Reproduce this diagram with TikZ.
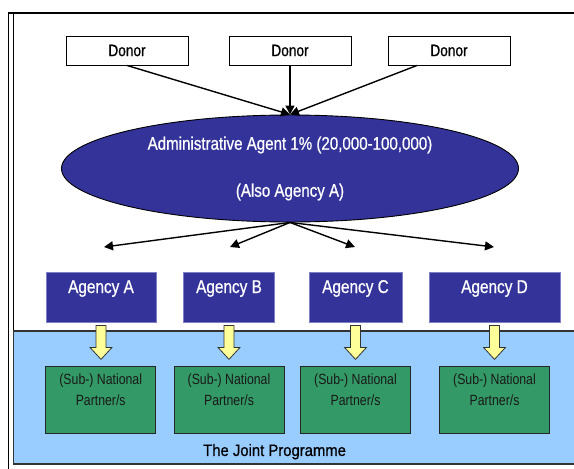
\documentclass[tikz,border=0pt]{standalone}
\usepackage{fontspec}
\setmainfont[FakeStretch=0.83]{Liberation Sans}
\newfontfamily\heavyfont[FakeStretch=0.83,FakeBold=0.7]{Liberation Sans}
\newfontfamily\wideheavyfont[FakeStretch=0.9,FakeBold=0.7]{Liberation Sans}
\usetikzlibrary{arrows.meta,calc,shapes.geometric}

\definecolor{agentblue}{HTML}{333399}
\definecolor{agentrim}{HTML}{7F7FC8}
\definecolor{jpblue}{HTML}{99CCFF}
\definecolor{partnergreen}{HTML}{339966}
\definecolor{flowyellow}{HTML}{FFFF99}
\definecolor{rimgrey}{HTML}{333333}

\tikzset{
  donorbox/.style={draw=black, line width=0.9pt, fill=white, minimum width=122pt,
    minimum height=29pt, inner sep=0pt, font=\heavyfont\fontsize{16.5}{19}\selectfont},
  agentshape/.style={ellipse, draw=black, line width=0.9pt, fill=agentblue,
    minimum width=457pt, minimum height=107pt, inner sep=0pt, align=center,
    text=white, font=\heavyfont\fontsize{18.2}{21}\selectfont},
  agencybox/.style={draw=agentrim, line width=0.8pt, fill=agentblue, text=white,
    inner xsep=0pt, inner ysep=0pt, text height=21pt, text depth=29pt,
    font=\heavyfont\fontsize{18.5}{21}\selectfont},
  partnerbox/.style={draw=black!85, line width=1pt, fill=partnergreen,
    minimum width=110pt, minimum height=67pt, inner sep=0pt},
  partnertext/.style={align=center, text=black!90, inner sep=0pt,
    font=\fontsize{14.8}{20.7}\selectfont},
  flowline/.style={line width=1.4pt, -{Triangle[length=9pt,width=9pt]}},
  yellowarrow/.style={draw=rimgrey, line width=0.8pt, fill=flowyellow, line join=miter},
}

\newcommand{\fatarrow}[1]{%
  \draw[yellowarrow] ($(#1.south)+(-5,3)$) -- ($(#1.south)+(5,3)$)
    -- ($(#1.south)+(5,25)$) -- ($(#1.south)+(11,25)$)
    -- ($(#1.south)+(0,37)$) -- ($(#1.south)+(-11,25)$)
    -- ($(#1.south)+(-5,25)$) -- cycle;}

\begin{document}
\begin{tikzpicture}[x=1pt,y=-1pt]
\useasboundingbox (0,0) rectangle (574,469);

% outer frame
\draw[line width=1.8pt] (8.5,469) -- (8.5,13) -- (574,13);
\draw[line width=0.7pt] (13.3,13) -- (13.3,331);

% joint programme area
\draw[draw=rimgrey, line width=1.2pt, fill=jpblue] (13.3,331) rectangle (590,464);
\node[font=\wideheavyfont\fontsize{16.5}{19}\selectfont, inner sep=0pt] (jp) at (274.6,451.7) {The Joint Programme};

% donors
\node[donorbox] (d1) at (127,50.5) {Donor};
\node[donorbox] (d2) at (290,50.5) {Donor};
\node[donorbox] (d3) at (449,50.5) {Donor};

% administrative agent
\node[agentshape] (ag) at (290,168.5) {Administrative Agent 1\% (20,000-100,000)\\[26pt](Also Agency A)};

\coordinate (d3out) at ($(d3.south)+(-32,0)$);
\draw[flowline] (d1.south) -- (ag.north);
\draw[flowline] (d2.south) -- (ag.north);
\draw[flowline] (d3out) -- (ag.north);

% agencies
\node[agencybox, minimum width=110pt] (aa) at (101,297) {Agency A};
\node[agencybox, minimum width=91.5pt] (ab) at (229,297) {Agency B};
\node[agencybox, minimum width=93pt] (ac) at (355.5,297) {Agency C};
\node[agencybox, minimum width=131pt] (ad) at (494.5,297) {Agency D};

\coordinate (ta) at (104,247);
\coordinate (tb) at (230,247);
\coordinate (tc) at (355,247);
\coordinate (td) at (494,247);
\foreach \t in {ta,tb,tc,td}
  \draw[flowline] (ag.south) -- (\t);

% national partners
\node[partnerbox] (pa) at (100.7,399.5) {};
\node[partnerbox] (pb) at (229,399.5) {};
\node[partnerbox] (pc) at (355.5,399.5) {};
\node[partnerbox] (pd) at (494.5,399.5) {};
\foreach \p in {pa,pb,pc,pd}
  \node[partnertext] (\p txt) at ($(\p.center)+(0,-9.5)$) {(Sub-) National\\Partner/s};

% flows from agencies to partners
\fatarrow{aa}
\fatarrow{ab}
\fatarrow{ac}
\fatarrow{ad}

\end{tikzpicture}
\end{document}
